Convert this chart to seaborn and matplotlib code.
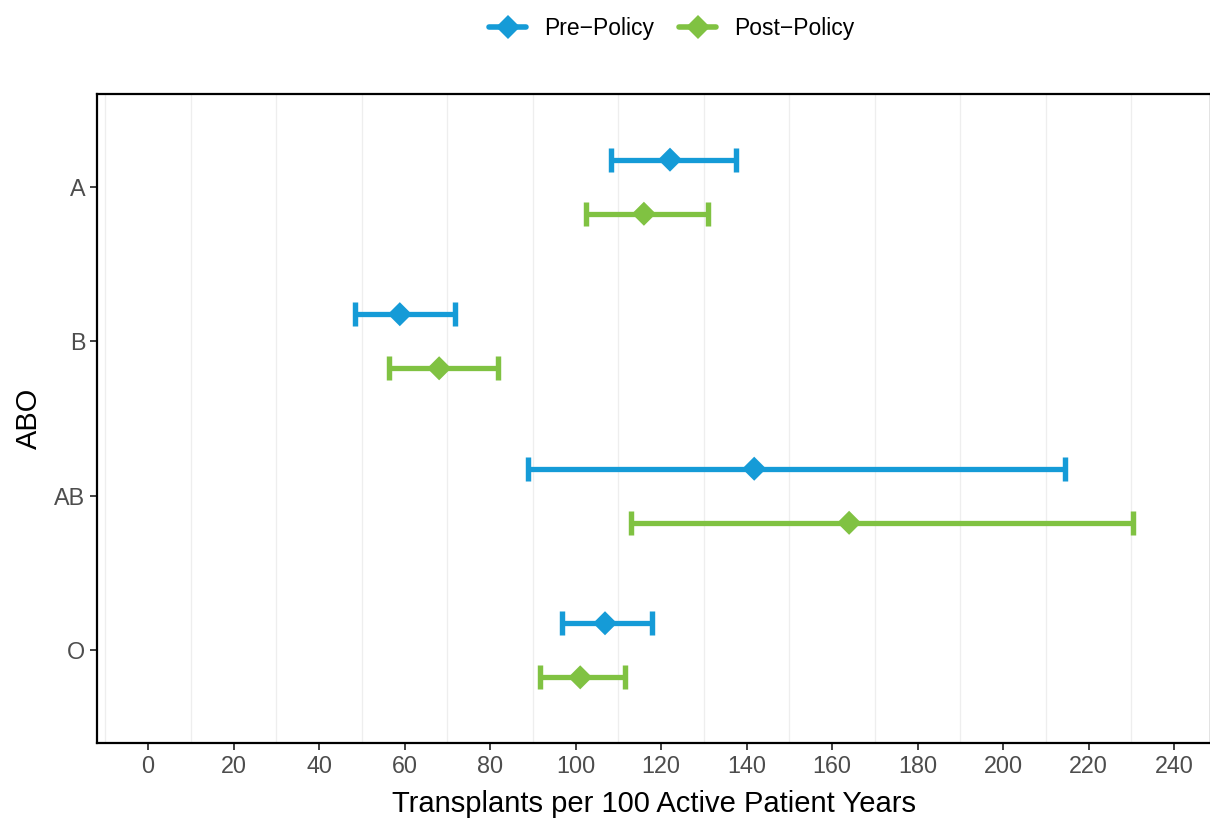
import matplotlib
matplotlib.use("Agg")
import matplotlib.pyplot as plt
import seaborn as sns
import numpy as np
import pandas as pd
from matplotlib.lines import Line2D

categories = ["A", "B", "AB", "O"]
periods = ["Pre\u2212Policy", "Post\u2212Policy"]
pre_est = [122.1, 58.9, 141.8, 106.9]
pre_lo = [108.3, 48.4, 88.9, 96.8]
pre_hi = [137.5, 71.8, 214.5, 117.9]
post_est = [116.0, 68.1, 164.0, 101.1]
post_lo = [102.5, 56.4, 113.0, 91.7]
post_hi = [131.0, 81.9, 230.4, 111.6]
x_ticks = list(range(0, 241, 20))

colors = {periods[0]: "#159BD7", periods[1]: "#80C242"}
offsets = {periods[0]: -0.175, periods[1]: 0.175}

rows = []
for i, c in enumerate(categories):
    rows.append(dict(ABO=c, period=periods[0], est=pre_est[i], lo=pre_lo[i], hi=pre_hi[i], idx=i))
    rows.append(dict(ABO=c, period=periods[1], est=post_est[i], lo=post_lo[i], hi=post_hi[i], idx=i))
df = pd.DataFrame(rows)
df["y"] = df["idx"] + df["period"].map(offsets)

sns.set_theme(style="white")
plt.rcParams["font.family"] = ["Liberation Sans", "DejaVu Sans"]

fig = plt.figure(figsize=(12.1, 8.18), dpi=100)
ax = fig.add_axes([97 / 1210, 1 - 743 / 818, (1211 - 97) / 1210, (743 - 94) / 818])

# minor grid lines
for g in range(-10, 250, 20):
    ax.axvline(g, color="#EEEEEE", lw=0.9, zorder=0)

for p in periods:
    sub = df[df["period"] == p]
    ax.errorbar(sub["est"], sub["y"],
                xerr=[sub["est"] - sub["lo"], sub["hi"] - sub["est"]],
                fmt="none", ecolor=colors[p], elinewidth=3.8,
                capsize=8.4, capthick=3.9, zorder=2)

sns.scatterplot(data=df, x="est", y="y", hue="period", palette=colors,
                marker="D", s=150, linewidth=0, ax=ax, legend=False, zorder=3)

ax.set_xlim(-11.93, 248.65)
ax.set_ylim(3.6, -0.6)
ax.set_yticks(range(len(categories)))
ax.set_yticklabels(categories)
ax.set_xticks(x_ticks)
ax.set_xticklabels([str(t) for t in x_ticks])
ax.tick_params(axis="both", which="major", length=5, width=1.3, color="#333333",
               labelsize=16.8, labelcolor="#4D4D4D", pad=3.5, bottom=True, left=True)
ax.set_xlabel("Transplants per 100 Active Patient Years", fontsize=21, color="black", labelpad=9)
ax.set_ylabel("ABO", fontsize=20.9, color="black", labelpad=8)
for s in ax.spines.values():
    s.set_color("black")
    s.set_linewidth(1.6)

handles = [Line2D([0], [0], color=colors[p], lw=4, marker="D", markersize=12,
                  markeredgewidth=0) for p in periods]
fig.legend(handles, periods, loc="center", bbox_to_anchor=(672 / 1210, 1 - 29 / 818),
           ncol=2, frameon=False, fontsize=16.5, handlelength=1.6, columnspacing=1.1,
           handletextpad=0.8, labelcolor="black")

fig.savefig("out.png", dpi=100)
